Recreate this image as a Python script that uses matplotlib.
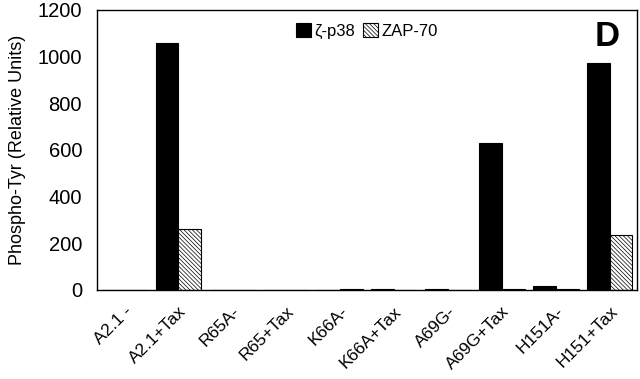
import matplotlib
matplotlib.use("Agg")
import matplotlib.pyplot as plt
import numpy as np

categories = ["A2.1 -", "A2.1+Tax", "R65A-", "R65+Tax", "K66A-", "K66A+Tax",
              "A69G-", "A69G+Tax", "H151A-", "H151+Tax"]
zeta_p38 = [0, 1057, 0, 0, 0, 3, 2, 629, 15, 972]
zap70 = [0, 261, 0, 0, 6, 0, 0, 6, 2, 235]
yticks = [0, 200, 400, 600, 800, 1000, 1200]

plt.rcParams['font.family'] = ['Liberation Sans', 'DejaVu Sans']
plt.rcParams['hatch.linewidth'] = 0.5
plt.rcParams['hatch.color'] = '#666666'

fig = plt.figure(figsize=(6.4, 3.79), dpi=100)
ax = fig.add_axes([0.152, 0.235, 0.843, 0.739])

x = np.arange(len(categories))
w = 0.42
ax.bar(x - w / 2, zeta_p38, width=w, color='black', edgecolor='black',
       linewidth=0.8, label='ζ-p38')
ax.bar(x + w / 2, zap70, width=w, color='white', edgecolor='black',
       hatch='\\\\\\\\\\\\\\\\', linewidth=0.8, label='ZAP-70')

ax.set_xlim(-0.5, len(categories) - 0.5)
ax.set_ylim(0, 1200)
ax.set_yticks(yticks)
ax.set_yticklabels([str(v) for v in yticks], fontsize=14.5)
ax.set_xticks(x)
ax.set_xticklabels(categories, rotation=45, ha='right', rotation_mode='anchor',
                   fontsize=12.5)
ax.tick_params(axis='x', length=0, pad=10)
ax.tick_params(axis='y', length=0, pad=11)
for s in ax.spines.values():
    s.set_linewidth(1.0)

ax.set_ylabel('Phospho-Tyr (Relative Units)', fontsize=13, labelpad=8)

ax.legend(loc='upper center', bbox_to_anchor=(0.5, 1.0), ncol=2, frameon=False,
          fontsize=12, handlelength=0.9, handleheight=0.9, handletextpad=0.2,
          columnspacing=0.5, borderaxespad=0.4)

ax.text(0.968, 0.965, 'D', transform=ax.transAxes, ha='right', va='top',
        fontsize=25, fontweight='bold')

fig.savefig('out.png', dpi=100)
